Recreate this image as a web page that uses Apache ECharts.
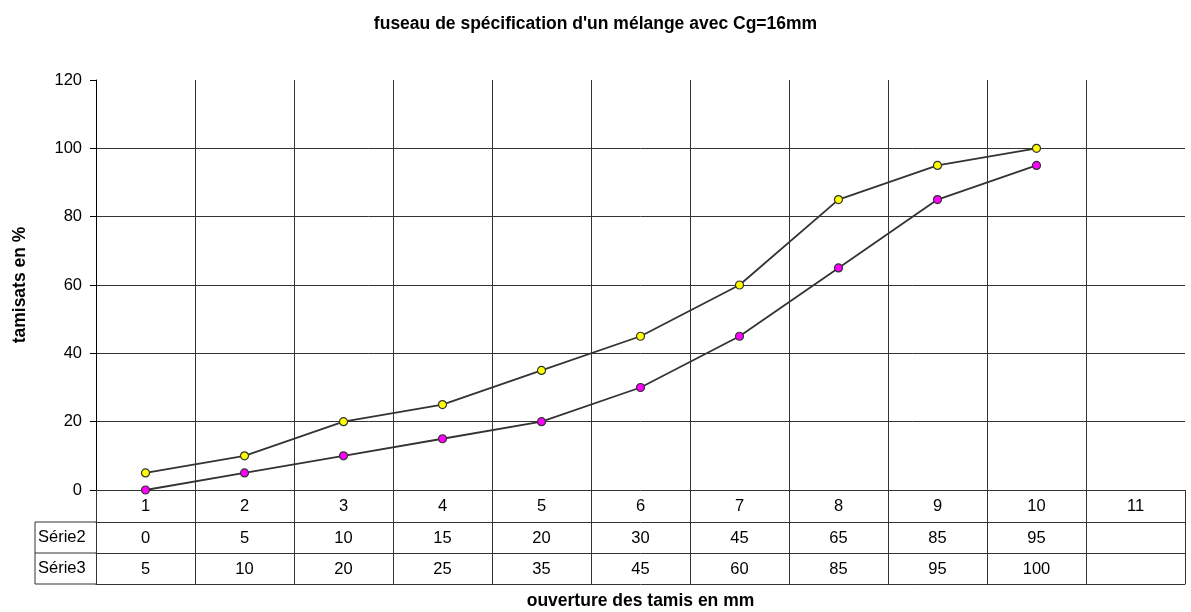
<!DOCTYPE html>
<html>
<head>
<meta charset="utf-8">
<script src="https://cdn.jsdelivr.net/npm/echarts@6/dist/echarts.min.js"></script>
<style>html,body{margin:0;padding:0;background:#fff}#c{width:1191px;height:612px}</style>
</head>
<body>
<div id="c"></div>
<script>
const categories = ['1','2','3','4','5','6','7','8','9','10','11'];
const serie2 = [0, 5, 10, 15, 20, 30, 45, 65, 85, 95];
const serie3 = [5, 10, 20, 25, 35, 45, 60, 85, 95, 100];
const seriesNames = ['Série2', 'Série3'];
const yTicks = { min: 0, max: 120, interval: 20 };
const titleText = "fuseau de spécification d'un mélange avec Cg=16mm";
const xName = 'ouverture des tamis en mm';
const yName = 'tamisats en %';

const FONT = 'Liberation Sans, Arial, sans-serif';
const FS = 16.5;
const NFS = 17.5;
const LINE = '#333';
const L = 96, R = 1185, TOP = 80, BASE = 490, ROW = 31, CATROW = 32;

const chart = echarts.init(document.getElementById('c'), null, { renderer: 'canvas' });

function tableAxis(offset, values, showLabel) {
  return {
    type: 'category', gridIndex: 0, position: 'bottom', offset: offset,
    data: categories, boundaryGap: true,
    axisLine: { show: true, lineStyle: { color: LINE, width: 1 } },
    axisTick: { show: showLabel, interval: 0, length: ROW, lineStyle: { color: LINE } },
    axisLabel: { show: showLabel, interval: 0, margin: 8, color: '#000', fontFamily: FONT, fontSize: FS,
      formatter: (v, i) => (values && values[i] !== undefined) ? String(values[i]) : '' },
    splitLine: { show: false }
  };
}

const option = {
  animation: false,
  backgroundColor: '#fff',
  title: { text: titleText, left: 'center', top: 10,
    textStyle: { fontFamily: FONT, fontSize: NFS, fontWeight: 'bold', color: '#000' } },
  grid: { left: L, right: 1191 - R, top: TOP, bottom: 612 - BASE, containLabel: false, outerBoundsMode: 'none' },
  xAxis: [
    {
      type: 'category', data: categories, boundaryGap: true,
      name: xName, nameLocation: 'middle', nameGap: 102,
      nameTextStyle: { fontFamily: FONT, fontSize: NFS, fontWeight: 'bold', color: '#000' },
      axisLine: { show: true, lineStyle: { color: LINE } },
      axisTick: { show: true, interval: 0, length: CATROW, lineStyle: { color: LINE } },
      axisLabel: { interval: 0, margin: 8, color: '#000', fontFamily: FONT, fontSize: FS },
      splitLine: { show: true, interval: 0, showMinLine: false, showMaxLine: false,
        lineStyle: { color: LINE, width: 1 } }
    },
    tableAxis(CATROW, serie2, true),
    tableAxis(CATROW + ROW, serie3, true),
    tableAxis(CATROW + 2 * ROW, null, false)
  ],
  yAxis: {
    type: 'value', min: yTicks.min, max: yTicks.max, interval: yTicks.interval,
    name: yName, nameLocation: 'middle', nameGap: 67, nameRotate: 90,
    nameTextStyle: { fontFamily: FONT, fontSize: NFS, fontWeight: 'bold', color: '#000' },
    axisLine: { show: true, lineStyle: { color: '#000' } },
    axisTick: { show: true, length: 6, lineStyle: { color: '#000' } },
    axisLabel: { color: '#000', fontFamily: FONT, fontSize: FS, margin: 14 },
    splitLine: { show: true, showMinLine: false, showMaxLine: false, lineStyle: { color: LINE, width: 1 } }
  },
  series: [
    { name: seriesNames[0], type: 'line', xAxisIndex: 0, data: serie2,
      symbol: 'circle', symbolSize: 8,
      lineStyle: { color: LINE, width: 1.8 },
      itemStyle: { color: '#ff00ff', borderColor: LINE, borderWidth: 1.2 } },
    { name: seriesNames[1], type: 'line', xAxisIndex: 0, data: serie3,
      symbol: 'circle', symbolSize: 8,
      lineStyle: { color: LINE, width: 1.8 },
      itemStyle: { color: '#ffff00', borderColor: LINE, borderWidth: 1.2 } }
  ],
  graphic: [
    { type: 'line', shape: { x1: 35, y1: BASE + CATROW, x2: L, y2: BASE + CATROW }, style: { stroke: LINE, lineWidth: 1 } },
    { type: 'line', shape: { x1: 35, y1: BASE + CATROW + ROW, x2: L, y2: BASE + CATROW + ROW }, style: { stroke: LINE, lineWidth: 1 } },
    { type: 'line', shape: { x1: 35, y1: BASE + CATROW + 2 * ROW, x2: L, y2: BASE + CATROW + 2 * ROW }, style: { stroke: LINE, lineWidth: 1 } },
    { type: 'line', shape: { x1: 35, y1: BASE + CATROW, x2: 35, y2: BASE + CATROW + 2 * ROW }, style: { stroke: LINE, lineWidth: 1 } },
    { type: 'text', x: 38, y: BASE + CATROW + ROW / 2, style: { text: seriesNames[0], fontFamily: FONT, fontSize: FS, fill: '#000', verticalAlign: 'middle' } },
    { type: 'text', x: 38, y: BASE + CATROW + ROW * 1.5, style: { text: seriesNames[1], fontFamily: FONT, fontSize: FS, fill: '#000', verticalAlign: 'middle' } }
  ]
};
chart.setOption(option);
</script>
</body>
</html>
